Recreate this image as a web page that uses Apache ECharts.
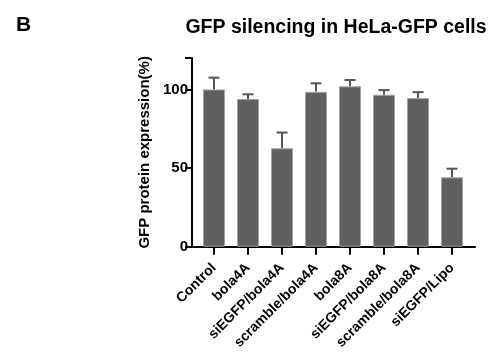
<!DOCTYPE html>
<html>
<head>
<meta charset="utf-8">
<script src="https://cdn.jsdelivr.net/npm/echarts@6/dist/echarts.min.js"></script>
<style>html,body{margin:0;padding:0;background:#fff;}#c{width:489px;height:352px;}</style>
</head>
<body>
<div id="c"></div>
<script>
var categories = ['Control','bola4A','siEGFP/bola4A','scramble/bola4A','bola8A','siEGFP/bola8A','scramble/bola8A','siEGFP/Lipo'];
var means = [100, 93.9, 62.6, 98.5, 102, 96.6, 94.5, 44.1];
var errors = [7.5, 3, 10, 5.4, 4, 3, 3.8, 5.5];
var yTicks = [0, 50, 100];

var FONT = 'Liberation Sans, Arial, Helvetica, sans-serif';
var chart = echarts.init(document.getElementById('c'));
var errData = means.map(function(m, i){ return [i, m, m + errors[i]]; });

chart.setOption({
  animation: false,
  title: [
    {text: 'GFP silencing in HeLa-GFP cells', left: 331, top: 13, textAlign: 'center',
     textStyle: {fontFamily: FONT, fontWeight: 'bold', fontSize: 19.5, color: '#000'}},
    {text: 'B', left: 11, top: 10,
     textStyle: {fontFamily: FONT, fontWeight: 'bold', fontSize: 21, color: '#000'}}
  ],
  grid: [
    {left: 197, width: 272, top: 58, bottom: 105},
    {left: 192, width: 283, top: 58, bottom: 105}
  ],
  xAxis: [
    {type: 'category', data: categories, gridIndex: 0,
     axisLine: {show: false},
     axisTick: {show: true, alignWithLabel: true, length: 8, lineStyle: {color: '#000', width: 2}},
     axisLabel: {rotate: 45, interval: 0, margin: 19, fontFamily: FONT, fontWeight: 'bold', fontSize: 14, color: '#000'}},
    {type: 'value', gridIndex: 1, min: 0, max: 1,
     axisLine: {show: true, lineStyle: {color: '#000', width: 2}},
     axisTick: {show: false}, axisLabel: {show: false}, splitLine: {show: false}}
  ],
  yAxis: [
    {type: 'value', gridIndex: 0, min: 0, max: 120, interval: 50, offset: 5,
     name: 'GFP protein expression(%)', nameLocation: 'middle', nameGap: 39, nameRotate: 90,
     nameTextStyle: {fontFamily: FONT, fontWeight: 'bold', fontSize: 15, color: '#000'},
     axisLine: {show: true, lineStyle: {color: '#000', width: 2}},
     axisTick: {show: true, length: 7, lineStyle: {color: '#000', width: 2}},
     axisLabel: {fontFamily: FONT, fontWeight: 'bold', fontSize: 15, color: '#000', margin: 4,
       formatter: function(v){ return yTicks.indexOf(v) >= 0 ? String(v) : ''; }},
     splitLine: {show: false}},
    {type: 'value', gridIndex: 1, show: false, min: 0, max: 1}
  ],
  series: [
    {type: 'bar', data: means, barWidth: 22, xAxisIndex: 0, yAxisIndex: 0,
     itemStyle: {color: '#5f5f5f', borderColor: '#a3a3a3', borderWidth: 1}},
    {type: 'custom', data: errData, xAxisIndex: 0, yAxisIndex: 0, z: 1,
     renderItem: function(params, api){
       var x = api.value(0);
       var lo = api.coord([x, api.value(1)]);
       var hi = api.coord([x, api.value(2)]);
       var hw = 5.5;
       var st = {stroke: '#555', lineWidth: 2, fill: null};
       return {type: 'group', children: [
         {type: 'line', shape: {x1: lo[0], y1: lo[1], x2: hi[0], y2: hi[1]}, style: st},
         {type: 'line', shape: {x1: hi[0]-hw, y1: hi[1], x2: hi[0]+hw, y2: hi[1]}, style: st}
       ]};
     }}
  ]
});
</script>
</body>
</html>
